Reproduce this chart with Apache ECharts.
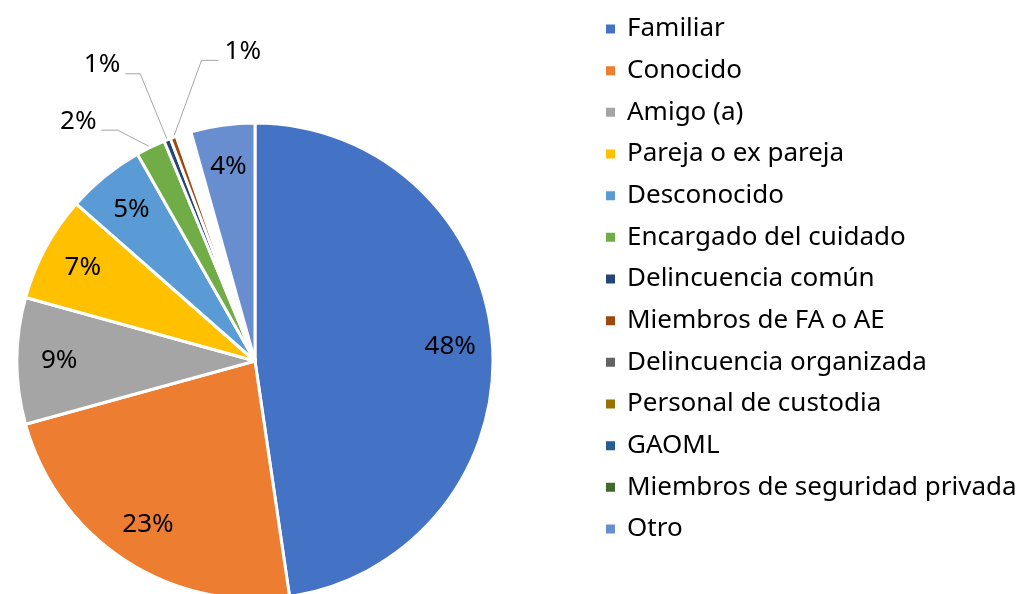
<!DOCTYPE html>
<html>
<head>
    <meta charset="utf-8" />
    <title>Agresor</title>
    <script src="https://cdn.jsdelivr.net/npm/echarts@6/dist/echarts.min.js"></script>
    <style>
        html, body { margin: 0; padding: 0; background: #fff; }
        #chart { width: 1027px; height: 594px; }
    </style>
</head>
<body>
    <div id="chart"></div>
    <script>
        var categories = ['Familiar', 'Conocido', 'Amigo (a)', 'Pareja o ex pareja', 'Desconocido',
            'Encargado del cuidado', 'Delincuencia común', 'Miembros de FA o AE', 'Delincuencia organizada',
            'Personal de custodia', 'GAOML', 'Miembros de seguridad privada', 'Otro'];
        var values = [47.8, 23.1, 8.6, 7.2, 5.3, 2.0, 0.45, 0.45, 0.25, 0.25, 0.25, 0.25, 4.35];
        var labels = ['48%', '23%', '9%', '7%', '5%', '2%', '1%', '1%', '', '', '', '', '4%'];
        var colors = ['#4472C4', '#ED7D31', '#A5A5A5', '#FFC000', '#5B9BD5', '#70AD47', '#264478',
            '#9E480E', '#636363', '#997300', '#255E91', '#43682B', '#698ED0'];

        var font = 'Noto Sans';
        var center = [255, 361];
        var R = 238;

        var pieData = categories.map(function (c, i) {
            var item = { name: c, value: values[i], itemStyle: { color: colors[i] } };
            if (labels[i] === '') {
                // slices too thin to show: they end up as a white gap
                item.itemStyle.borderWidth = 4;
            }
            return item;
        });

        // leader lines for the small slices: bend offset from the rim, then horizontal run
        var leaders = {
            5: [-33, -17, -16],
            6: [-27, -66, -15],
            7: [28, -77, 17]
        };

        var labelData = categories.map(function (c, i) {
            var item = { name: c, value: values[i] };
            if (labels[i] === '') {
                item.label = { show: false };
                item.labelLine = { show: false };
            } else if (leaders[i]) {
                item.label = { position: 'outside' };
                item.labelLine = { show: true, length: 20, length2: 15 };
            }
            return item;
        });

        var chart = echarts.init(document.getElementById('chart'));
        var option = {
            animation: false,
            legend: {
                orient: 'vertical',
                left: 604,
                top: 16,
                padding: 0,
                icon: 'rect',
                itemWidth: 11,
                itemHeight: 11,
                itemGap: 15.67,
                data: categories,
                textStyle: {
                    fontFamily: font,
                    fontSize: 26,
                    color: '#000',
                    lineHeight: 26,
                    padding: [0, 0, 0, 6]
                }
            },
            series: [
                {
                    type: 'pie',
                    center: center,
                    radius: R,
                    startAngle: 90,
                    silent: true,
                    label: { show: false },
                    labelLine: { show: false },
                    itemStyle: { borderColor: '#fff', borderWidth: 3 },
                    data: pieData
                },
                {
                    // transparent copy, only to place the labels near the rim
                    type: 'pie',
                    center: center,
                    radius: [R * 0.62, R],
                    startAngle: 90,
                    silent: true,
                    avoidLabelOverlap: false,
                    itemStyle: { color: 'rgba(0,0,0,0)', borderWidth: 0 },
                    label: {
                        show: true,
                        position: 'inside',
                        fontFamily: font,
                        fontSize: 26,
                        color: '#000',
                        formatter: function (p) { return labels[p.dataIndex]; }
                    },
                    labelLine: {
                        show: false,
                        lineStyle: { color: '#a6a6a6', width: 1 }
                    },
                    labelLayout: function (p) {
                        var l = leaders[p.dataIndex];
                        if (p.seriesIndex !== 1 || !l || !p.labelLinePoints) return;
                        var a = p.labelLinePoints[0];
                        var b = [a[0] + l[0], a[1] + l[1]];
                        var c = [b[0] + l[2], b[1]];
                        var right = l[2] > 0;
                        return {
                            x: c[0] + (right ? 6 : -5),
                            y: c[1] - 9,
                            align: right ? 'left' : 'right',
                            verticalAlign: 'middle',
                            labelLinePoints: [a, b, c]
                        };
                    },
                    data: labelData
                }
            ]
        };
        chart.setOption(option);
    </script>
</body>
</html>
